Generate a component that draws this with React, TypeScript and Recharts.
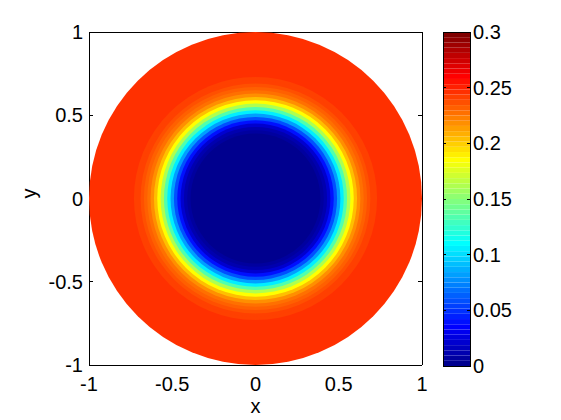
import React from 'react';
import {
  ScatterChart,
  Scatter,
  XAxis,
  YAxis,
  ZAxis,
  Cell,
  ComposedChart,
  ReferenceArea,
} from 'recharts';

// radial profile: outer radius of each ring (in axis units) and its value
const ringRadius = [1.0, 0.73, 0.71, 0.69, 0.67, 0.65, 0.63, 0.61, 0.59, 0.57, 0.55, 0.53, 0.51, 0.49, 0.47, 0.45, 0.43, 0.41, 0.39];
const ringValue = [0.245, 0.243, 0.24, 0.237, 0.232, 0.225, 0.216, 0.203, 0.185, 0.16, 0.135, 0.107, 0.08, 0.058, 0.038, 0.022, 0.012, 0.005, 0];

const xTicks = [-1, -0.5, 0, 0.5, 1];
const yTicks = [-1, -0.5, 0, 0.5, 1];
const colorTicks = [0, 0.05, 0.1, 0.15, 0.2, 0.25, 0.3];
const colorRange = [0, 0.3];
const N_COLORS = 64;

const FONT = '"Liberation Sans", Arial, Helvetica, sans-serif';
const PLOT_SIZE = 333;

// matlab jet(64)
const u = (i: number) => (i < 1 || i > 47 ? 0 : i <= 16 ? i / 16 : i <= 31 ? 1 : (48 - i) / 16);
const hex = (v: number) => Math.round(v * 255).toString(16).padStart(2, '0');
const jet = (k: number) => `#${hex(u(k - 24))}${hex(u(k - 8))}${hex(u(k + 8))}`;
const colorOf = (v: number) => {
  const k = Math.floor(((v - colorRange[0]) / (colorRange[1] - colorRange[0])) * N_COLORS) + 1;
  return jet(Math.min(N_COLORS, Math.max(1, k)));
};

const rings = ringRadius.map((r, i) => ({ x: 0, y: 0, area: r * r, value: ringValue[i] }));
const levels = Array.from({ length: N_COLORS }, (_, i) => i);
const levelStep = (colorRange[1] - colorRange[0]) / N_COLORS;
const cbFrame = [{ x: 0 }, { x: 1 }];

const tickText = { fill: '#000', fontSize: 20, fontFamily: FONT };
const axisStroke = { stroke: '#000', strokeWidth: 1, shapeRendering: 'crispEdges' };
const NoLabel = () => null;

const App = () => {
  return (
    <div style={{ position: 'absolute', left: 0, top: 0, width: 561, height: 420, background: '#fff' }}>
      <div style={{ position: 'absolute', left: 0, top: 0 }}>
        <ScatterChart width={561} height={420} margin={{ top: 32, right: 139, bottom: 25, left: 29 }}>
          <ZAxis
            type="number"
            dataKey="area"
            domain={[0, 1]}
            range={[0, Math.PI * (PLOT_SIZE / 2) * (PLOT_SIZE / 2)]}
          />
          <Scatter data={rings} xAxisId="x" yAxisId="y" isAnimationActive={false}>
            {rings.map((d, i) => (
              <Cell key={`ring-${i}`} fill={colorOf(d.value)} stroke="none" />
            ))}
          </Scatter>

          {/* labelled axes */}
          <XAxis
            xAxisId="x"
            type="number"
            dataKey="x"
            domain={[-1, 1]}
            ticks={xTicks}
            interval={0}
            allowDataOverflow
            height={30}
            tickSize={0}
            tickMargin={12}
            tickLine={false}
            axisLine={axisStroke}
            tick={tickText}
            label={{ value: 'x', position: 'bottom', offset: 4, ...tickText }}
          />
          <YAxis
            yAxisId="y"
            type="number"
            dataKey="y"
            domain={[-1, 1]}
            ticks={yTicks}
            interval={0}
            allowDataOverflow
            width={60}
            tickSize={0}
            tickMargin={6}
            tickLine={false}
            axisLine={axisStroke}
            tick={tickText}
            label={{ value: 'y', angle: -90, position: 'insideLeft', offset: 0, ...tickText }}
          />

          {/* inward ticks and box */}
          <XAxis xAxisId="xb" type="number" orientation="bottom" mirror domain={[-1, 1]} ticks={xTicks} interval={0}
            allowDataOverflow tickSize={4} tick={NoLabel} axisLine={false} tickLine={axisStroke} />
          <XAxis xAxisId="xt" type="number" orientation="top" mirror domain={[-1, 1]} ticks={xTicks} interval={0}
            allowDataOverflow tickSize={4} tick={NoLabel} axisLine={axisStroke} tickLine={axisStroke} />
          <YAxis yAxisId="yl" type="number" orientation="left" mirror domain={[-1, 1]} ticks={yTicks} interval={0}
            allowDataOverflow tickSize={4} tick={NoLabel} axisLine={false} tickLine={axisStroke} />
          <YAxis yAxisId="yr" type="number" orientation="right" mirror domain={[-1, 1]} ticks={yTicks} interval={0}
            allowDataOverflow tickSize={4} tick={NoLabel} axisLine={axisStroke} tickLine={axisStroke} />
        </ScatterChart>
      </div>

      {/* colorbar */}
      <div style={{ position: 'absolute', left: 0, top: 0 }}>
        <ComposedChart width={561} height={420} data={cbFrame} margin={{ top: 32, right: 31, bottom: 54, left: 443 }}>
          <XAxis xAxisId="cbx" type="number" dataKey="x" domain={[0, 1]} hide />
          {levels.map((i) => (
            <ReferenceArea
              key={`lvl-${i}`}
              xAxisId="cbx"
              yAxisId="cb"
              y1={colorRange[0] + i * levelStep}
              y2={colorRange[0] + (i + 1) * levelStep}
              fill={jet(i + 1)}
              fillOpacity={1}
              stroke="none"
              ifOverflow="visible"
            />
          ))}
          <ReferenceArea xAxisId="cbx" yAxisId="cb" y1={colorRange[0]} y2={colorRange[1]} fill="none"
            stroke="#000" strokeWidth={1} ifOverflow="visible" shapeRendering="crispEdges" />
          <YAxis
            yAxisId="cb"
            orientation="right"
            type="number"
            domain={colorRange}
            ticks={colorTicks}
            interval={0}
            allowDataOverflow
            width={60}
            tickSize={0}
            tickMargin={3}
            tickLine={false}
            axisLine={false}
            tick={{ ...tickText, textAnchor: 'start' }}
          />
          <YAxis yAxisId="cbr" orientation="right" mirror type="number" domain={colorRange} ticks={colorTicks} interval={0}
            allowDataOverflow tickSize={3} tick={NoLabel} axisLine={false} tickLine={axisStroke} />
          <YAxis yAxisId="cbl" orientation="left" mirror type="number" domain={colorRange} ticks={colorTicks} interval={0}
            allowDataOverflow tickSize={3} tick={NoLabel} axisLine={false} tickLine={axisStroke} />
        </ComposedChart>
      </div>
    </div>
  );
};

export default App;
